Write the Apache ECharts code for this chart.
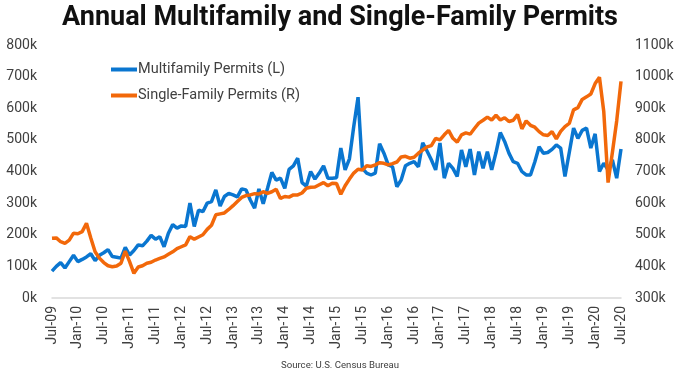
<!DOCTYPE html>
<html>
<head>
<meta charset="utf-8">
<script src="https://cdn.jsdelivr.net/npm/echarts@6/dist/echarts.min.js"></script>
<style>
html,body{margin:0;padding:0;background:#fff;}
#chart{width:680px;height:372px;}
</style>
</head>
<body>
<div id="chart"></div>
<script>
// Months from Jul-09 to Jul-20
const monthNames = ['Jan','Feb','Mar','Apr','May','Jun','Jul','Aug','Sep','Oct','Nov','Dec'];
const startYear = 2009, startMonth = 6, monthCount = 133;
const categories = [];
for (let k = 0; k < monthCount; k++) {
  const m = (startMonth + k) % 12;
  const y = startYear + Math.floor((startMonth + k) / 12);
  categories.push(monthNames[m] + '-' + String(y % 100).padStart(2, '0'));
}

// Multifamily permits (thousands, left axis)
const multifamily = [
  85,100,112,95,115,135,115,122,130,140,118,135,
  143,153,131,129,126,160,136,150,168,165,180,198,
  186,194,162,205,232,221,228,226,300,226,278,273,
  300,305,342,291,321,331,326,320,345,342,310,284,
  345,298,347,397,373,379,347,407,418,442,365,354,
  400,376,395,418,379,379,380,474,405,440,542,635,
  410,395,389,395,488,458,421,415,352,373,418,426,
  431,415,491,465,437,405,490,379,426,410,384,468,
  415,471,389,463,410,463,405,460,523,495,458,431,
  426,400,389,389,430,478,458,460,470,484,474,384,
  460,537,505,530,537,474,519,400,426,405,437,379,
  471
];

// Single-family permits (thousands, right axis)
const singleFamily = [
  489,490,478,473,483,505,503,510,536,490,446,426,
  412,402,399,401,410,448,415,378,398,402,410,413,
  420,425,430,438,446,456,462,468,494,486,493,500,
  517,530,563,566,569,580,592,605,618,624,626,630,
  629,636,631,636,644,615,621,619,626,626,632,647,
  650,651,658,665,655,663,662,628,655,676,695,707,
  705,718,716,721,728,726,721,725,730,746,748,742,
  745,758,768,778,782,805,800,816,830,805,793,816,
  822,818,836,853,862,872,863,878,863,870,858,862,
  880,835,860,846,840,826,816,814,826,803,827,842,
  852,895,902,928,936,945,978,998,890,665,760,860,
  985
];

const seriesNames = ['Multifamily Permits (L)', 'Single-Family Permits (R)'];
const leftTicks = [0, 800, 100];     // min, max, interval (k)
const rightTicks = [300, 1100, 100]; // min, max, interval (k)

const BLUE = '#0a76d0';
const ORANGE = '#f2680a';
const FONT = 'Roboto';

const chart = echarts.init(document.getElementById('chart'), null, {renderer: 'canvas'});
chart.setOption({
  animation: false,
  backgroundColor: '#ffffff',
  title: [{
    text: 'Annual Multifamily and Single-Family Permits',
    left: 'center', top: 0,
    textStyle: {fontFamily: FONT, fontWeight: 'bold', fontSize: 27, color: '#111111'}
  }, {
    text: 'Source: U.S. Census Bureau',
    left: 'center', top: 356,
    textStyle: {fontFamily: FONT, fontWeight: 'normal', fontSize: 9.6, color: '#404040'}
  }],
  legend: {
    orient: 'vertical', left: 106, top: 57, itemGap: 11,
    itemWidth: 26, itemHeight: 4, icon: 'rect',
    textStyle: {fontFamily: FONT, fontSize: 14.5, color: '#404040', padding: [0, 0, 0, -4]},
    data: seriesNames
  },
  grid: {left: 52, right: 59, top: 45, bottom: 74, containLabel: false},
  xAxis: {
    type: 'category', data: categories, boundaryGap: false,
    axisLine: {show: true, lineStyle: {color: '#d9d9d9', width: 1.5}},
    axisTick: {show: false},
    axisLabel: {interval: 5, rotate: 90, margin: 8, fontFamily: FONT, fontSize: 14, color: '#404040'},
    splitLine: {show: false}
  },
  yAxis: [{
    type: 'value', min: leftTicks[0], max: leftTicks[1], interval: leftTicks[2],
    axisLine: {show: false}, axisTick: {show: false}, splitLine: {show: false},
    axisLabel: {formatter: v => v + 'k', margin: 15, fontFamily: FONT, fontSize: 14, color: '#404040'}
  }, {
    type: 'value', min: rightTicks[0], max: rightTicks[1], interval: rightTicks[2],
    axisLine: {show: false}, axisTick: {show: false}, splitLine: {show: false},
    axisLabel: {formatter: v => v + 'k', margin: 14, fontFamily: FONT, fontSize: 14, color: '#404040'}
  }],
  series: [{
    name: seriesNames[0], type: 'line', yAxisIndex: 0, data: multifamily,
    symbol: 'none', lineStyle: {color: BLUE, width: 3.5}, itemStyle: {color: BLUE}, z: 3
  }, {
    name: seriesNames[1], type: 'line', yAxisIndex: 1, data: singleFamily,
    symbol: 'none', lineStyle: {color: ORANGE, width: 3.5}, itemStyle: {color: ORANGE}, z: 4
  }]
});
</script>
</body>
</html>
